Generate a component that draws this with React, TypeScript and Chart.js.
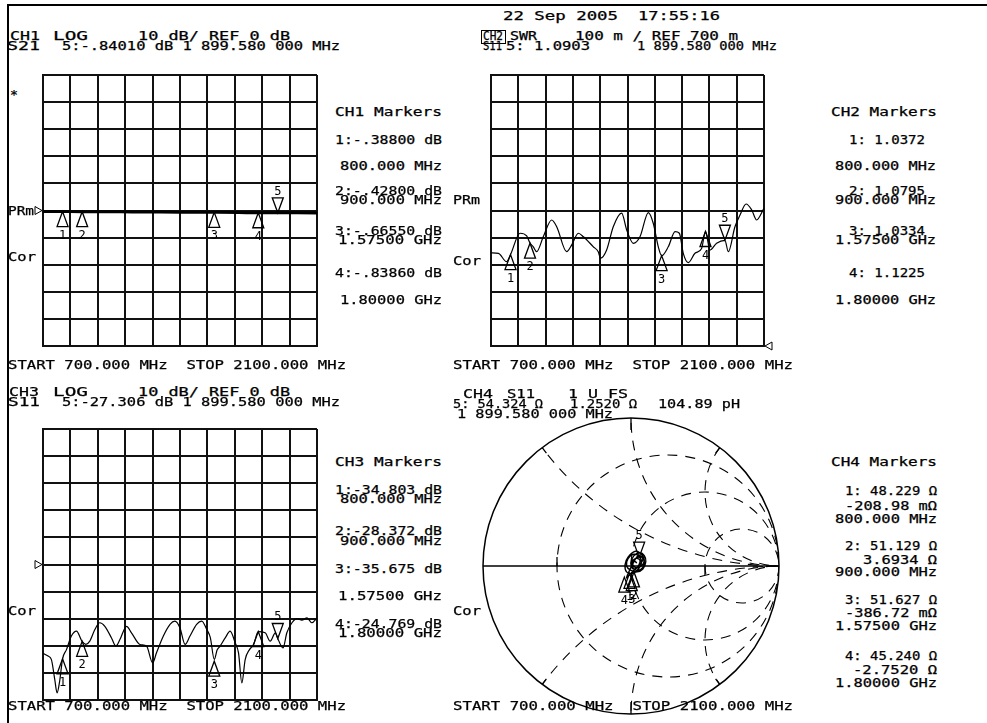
import React, { useEffect, useRef } from "react";
import { Chart, registerables } from "chart.js";
Chart.register(...registerables);

// ---------- data ----------
const FREQ_MIN = 700;
const FREQ_MAX = 2100;
const FREQ_STEP = 140;
const markerFreqs = [800, 900, 1575, 1800, 1899.58];
const markerLabels = ["1", "2", "3", "4", "5"];

// CH1 S21 (dB)
const ch1Freqs = [700, 800, 900, 1000, 1100, 1200, 1300, 1400, 1500, 1575, 1700, 1800, 1899.58, 2000, 2100];
const ch1Db = [-0.35, -0.388, -0.428, -0.46, -0.5, -0.53, -0.57, -0.6, -0.63, -0.6655, -0.74, -0.8386, -0.8401, -0.87, -0.9];
const ch1MarkerDb = [-0.388, -0.428, -0.6655, -0.8386, -0.8401];

// CH2 S11 SWR
const ch2Freqs = [700, 738, 780, 800, 849, 883, 900, 917, 934, 968, 1011, 1037, 1088, 1114, 1148, 1174, 1225, 1250, 1262, 1293, 1327, 1370, 1396, 1430, 1464, 1507, 1532, 1558, 1575, 1609, 1644, 1666, 1686, 1712, 1746, 1780, 1800, 1823, 1857, 1899.58, 1917, 1951, 1977, 2008, 2037, 2062, 2100];
const ch2Swr = [1.044, 1.042, 1.011, 1.037, 1.116, 1.106, 1.08, 1.066, 1.048, 1.103, 1.165, 1.14, 1.048, 1.073, 1.116, 1.103, 1.066, 1.048, 1.024, 1.054, 1.14, 1.19, 1.128, 1.079, 1.103, 1.192, 1.153, 1.066, 1.033, 1.066, 1.122, 1.116, 1.042, 1.008, 1.042, 1.06, 1.122, 1.054, 1.079, 1.09, 1.048, 1.14, 1.183, 1.224, 1.202, 1.165, 1.208];
const ch2MarkerSwr = [1.0372, 1.0795, 1.0334, 1.1225, 1.0903];

// CH3 S11 (dB)
const ch3Freqs = [700, 726, 743, 760, 772, 785, 800, 820, 845, 871, 900, 919, 939, 965, 990, 1016, 1050, 1072, 1093, 1127, 1152, 1195, 1229, 1260, 1280, 1315, 1349, 1374, 1400, 1426, 1451, 1485, 1511, 1537, 1555, 1575, 1590, 1605, 1631, 1656, 1682, 1699, 1716, 1733, 1755, 1776, 1800, 1835, 1861, 1887, 1899.58, 1926, 1946, 1972, 1998, 2023, 2049, 2074, 2100];
const ch3Db = [-32.8, -33.8, -35.1, -42.4, -47.4, -43.1, -34.8, -31.4, -26.4, -24.6, -28.4, -29.5, -28.3, -24.0, -21.5, -22.8, -27.1, -30.1, -27.7, -22.8, -25.2, -29.5, -30.1, -36.3, -32.6, -26.4, -22.1, -20.9, -23.4, -29.5, -26.4, -22.1, -20.9, -24.0, -27.0, -35.0, -31.5, -30.1, -27.1, -24.6, -28.9, -32.6, -43.7, -35.1, -31.4, -29.5, -24.8, -25.2, -28.3, -25.2, -27.3, -30.8, -25.2, -21.5, -20.0, -20.5, -19.7, -21.5, -19.7];
const ch3MarkerDb = [-34.803, -28.372, -35.675, -24.769, -27.306];

// CH4 Smith (reflection coefficient)
const smithRe = [0.0, 0.03, 0.07, 0.09, 0.08, 0.05, 0.02, 0.0, 0.02, 0.06, 0.09, 0.1, 0.08, 0.04, 0.0, -0.03, -0.02, 0.02, 0.06, 0.07, 0.05, 0.01, -0.03, -0.04, -0.02, 0.03, 0.07, 0.09, 0.07, 0.03, 0.01, 0.03, 0.06, 0.05, 0.02, -0.01, -0.03, -0.01, 0.02, 0.05, 0.08, 0.06, 0.02, 0.0, 0.01, 0.04];
const smithIm = [0.01, 0.05, 0.06, 0.03, -0.01, -0.03, -0.02, 0.02, 0.07, 0.09, 0.07, 0.03, -0.02, -0.04, -0.03, 0.0, 0.05, 0.08, 0.06, 0.02, -0.02, -0.05, -0.04, 0.01, 0.06, 0.1, 0.08, 0.04, 0.0, -0.01, 0.02, 0.05, 0.04, 0.0, -0.03, -0.06, -0.08, -0.03, 0.03, 0.07, 0.05, 0.01, -0.02, 0.01, 0.04, 0.02];
const smithMarkerRe = [-0.01, 0.02, 0.005, -0.045, 0.055];
const smithMarkerIm = [-0.05, -0.04, -0.065, -0.075, 0.06];
const smithResistances = [1 / 3, 1, 3];
const smithReactances = [0.5, 1, 2];

// ---------- plugins ----------
type Mk = { x: number; y: number; label: string; up: boolean };

function markerPlugin(markers: Mk[]) {
  return {
    id: "markers",
    afterDatasetsDraw(chart: any) {
      const { ctx } = chart;
      const xs = chart.scales.x;
      const ys = chart.scales.y;
      ctx.save();
      ctx.strokeStyle = "#000";
      ctx.fillStyle = "#000";
      ctx.lineWidth = 1.3;
      ctx.font = '12px "DejaVu Sans Mono"';
      ctx.textAlign = "center";
      markers.forEach((m) => {
        const px = xs.getPixelForValue(m.x);
        const py = ys.getPixelForValue(m.y);
        const d = m.up ? 1 : -1;
        ctx.beginPath();
        ctx.moveTo(px, py);
        ctx.lineTo(px - 5.5, py + d * 15);
        ctx.lineTo(px + 5.5, py + d * 15);
        ctx.closePath();
        ctx.stroke();
        ctx.fillText(m.label, px, m.up ? py + 27 : py - 18);
      });
      ctx.restore();
    },
  };
}

function refPlugin(side: "left" | "right", value: number) {
  return {
    id: "refArrow",
    afterDraw(chart: any) {
      const { ctx, chartArea } = chart;
      const py = chart.scales.y.getPixelForValue(value);
      ctx.save();
      ctx.strokeStyle = "#000";
      ctx.lineWidth = 1;
      ctx.beginPath();
      if (side === "left") {
        const tip = chartArea.left - 1;
        ctx.moveTo(tip, py);
        ctx.lineTo(tip - 7, py - 4);
        ctx.lineTo(tip - 7, py + 4);
      } else {
        const tip = chartArea.right + 1;
        ctx.moveTo(tip, py);
        ctx.lineTo(tip + 7, py - 4);
        ctx.lineTo(tip + 7, py + 4);
      }
      ctx.closePath();
      ctx.stroke();
      ctx.restore();
    },
  };
}

const smithGridPlugin = {
  id: "smithGrid",
  beforeDatasetsDraw(chart: any) {
    const { ctx } = chart;
    const xs = chart.scales.x;
    const ys = chart.scales.y;
    const cx = xs.getPixelForValue(0);
    const cy = ys.getPixelForValue(0);
    const R = xs.getPixelForValue(1) - cx;
    ctx.save();
    ctx.strokeStyle = "#000";
    ctx.lineWidth = 1.5;
    ctx.beginPath();
    ctx.arc(cx, cy, R, 0, Math.PI * 2);
    ctx.stroke();
    ctx.beginPath();
    ctx.moveTo(cx - R, cy);
    ctx.lineTo(cx + R, cy);
    ctx.stroke();
    // ticks
    ctx.lineWidth = 1.3;
    ctx.beginPath();
    ctx.moveTo(cx - 0.5 * R, cy);
    ctx.lineTo(cx - 0.5 * R, cy - 9);
    ctx.moveTo(cx + 0.5 * R, cy);
    ctx.lineTo(cx + 0.5 * R, cy + 9);
    ctx.moveTo(cx, cy - R);
    ctx.lineTo(cx, cy - R + 12);
    ctx.moveTo(cx, cy + R);
    ctx.lineTo(cx, cy + R - 12);
    [[-0.6, 0.8], [0.6, 0.8], [-0.6, -0.8], [0.6, -0.8]].forEach(([u, v]) => {
      ctx.moveTo(cx + u * R, cy - v * R);
      ctx.lineTo(cx + u * (R - 7), cy - v * (R - 7));
    });
    ctx.stroke();
    // dashed graticule
    ctx.beginPath();
    ctx.arc(cx, cy, R, 0, Math.PI * 2);
    ctx.clip();
    ctx.setLineDash([10, 8]);
    ctx.lineWidth = 1.1;
    smithResistances.forEach((r) => {
      const c = r / (1 + r);
      const rad = 1 / (1 + r);
      ctx.beginPath();
      ctx.arc(cx + c * R, cy, rad * R, 0, Math.PI * 2);
      ctx.stroke();
    });
    smithReactances.forEach((xv) => {
      [1, -1].forEach((s) => {
        const rad = 1 / xv;
        ctx.beginPath();
        ctx.arc(cx + R, cy - s * rad * R, rad * R, 0, Math.PI * 2);
        ctx.stroke();
      });
    });
    ctx.restore();
  },
};

// ---------- components ----------
const gridOpts = { color: "#111", lineWidth: 2, drawTicks: false };
const borderOpts = { color: "#111", width: 2 };

function RectChart(props: any) {
  const ref = useRef<HTMLCanvasElement>(null);
  const { left, top, width, height, pad, xs, ys, yMin, yMax, yStep, lineW, my, refSide, refVal } = props;
  useEffect(() => {
    const data = xs.map((x: number, i: number) => ({ x, y: ys[i] }));
    const markers: Mk[] = markerFreqs.map((f, i) => ({ x: f, y: my[i], label: markerLabels[i], up: i < 4 }));
    const chart = new Chart(ref.current as HTMLCanvasElement, {
      type: "line",
      data: {
        datasets: [
          {
            data,
            borderColor: "#000",
            borderWidth: lineW,
            pointRadius: 0,
            cubicInterpolationMode: "monotone",
            fill: false,
          } as any,
        ],
      },
      options: {
        animation: false,
        responsive: false,
        devicePixelRatio: 1,
        events: [],
        layout: { padding: pad },
        plugins: { legend: { display: false }, tooltip: { enabled: false } },
        scales: {
          x: {
            type: "linear",
            min: FREQ_MIN,
            max: FREQ_MAX,
            ticks: { display: false, stepSize: FREQ_STEP },
            grid: gridOpts,
            border: borderOpts,
          },
          y: {
            type: "linear",
            min: yMin,
            max: yMax,
            ticks: { display: false, stepSize: yStep },
            grid: gridOpts,
            border: borderOpts,
          },
        },
      } as any,
      plugins: [markerPlugin(markers), refPlugin(refSide, refVal)],
    });
    return () => chart.destroy();
  }, []);
  return <canvas ref={ref} width={width} height={height} style={{ position: "absolute", left, top, width, height }} />;
}

function SmithChart() {
  const ref = useRef<HTMLCanvasElement>(null);
  useEffect(() => {
    const data = smithRe.map((x, i) => ({ x, y: smithIm[i] }));
    const markers: Mk[] = smithMarkerRe.map((x, i) => ({ x, y: smithMarkerIm[i], label: markerLabels[i], up: i < 4 }));
    const chart = new Chart(ref.current as HTMLCanvasElement, {
      type: "scatter",
      data: {
        datasets: [
          {
            data,
            showLine: true,
            borderColor: "#000",
            borderWidth: 1.4,
            pointRadius: 0,
            tension: 0.4,
          } as any,
        ],
      },
      options: {
        animation: false,
        responsive: false,
        devicePixelRatio: 1,
        events: [],
        layout: { padding: 10 },
        plugins: { legend: { display: false }, tooltip: { enabled: false } },
        scales: {
          x: { type: "linear", min: -1, max: 1, display: false },
          y: { type: "linear", min: -1, max: 1, display: false },
        },
      } as any,
      plugins: [smithGridPlugin, markerPlugin(markers)],
    });
    return () => chart.destroy();
  }, []);
  return <canvas ref={ref} width={316} height={316} style={{ position: "absolute", left: 473, top: 408, width: 316, height: 316 }} />;
}

const FS = 12;
const ADV = 0.602 * FS;
function T({ x, y, w, s }: { x: number; y: number; w?: number; s: string }) {
  const target = w ?? s.length * 9.4;
  const sc = target / (s.length * ADV);
  return (
    <div
      style={{
        position: "absolute",
        left: x,
        top: y - 1.6,
        font: `${FS}px "DejaVu Sans Mono"`,
        lineHeight: `${FS}px`,
        whiteSpace: "pre",
        transform: `scaleX(${sc})`,
        transformOrigin: "0 0",
        color: "#000",
        WebkitTextStroke: "0.25px #000",
      }}
    >
      {s}
    </div>
  );
}

const SPAN = "START 700.000 MHz  STOP 2100.000 MHz";

export default function App() {
  return (
    <div style={{ position: "absolute", left: 0, top: 0, width: 987, height: 723, background: "#fff", overflow: "hidden" }}>
      <RectChart left={30} top={65} width={300} height={295} pad={{ left: 13, top: 10, right: 13, bottom: 14 }}
        xs={ch1Freqs} ys={ch1Db} yMin={-50} yMax={50} yStep={10} lineW={3} my={ch1MarkerDb} refSide="left" refVal={0} />
      <RectChart left={480} top={65} width={300} height={295} pad={{ left: 11, top: 10, right: 16, bottom: 14 }}
        xs={ch2Freqs} ys={ch2Swr} yMin={0.7} yMax={1.7} yStep={0.1} lineW={1.2} my={ch2MarkerSwr} refSide="right" refVal={0.7} />
      <RectChart left={30} top={419} width={300} height={295} pad={{ left: 13, top: 10, right: 13, bottom: 14 }}
        xs={ch3Freqs} ys={ch3Db} yMin={-50} yMax={50} yStep={10} lineW={1.2} my={ch3MarkerDb} refSide="left" refVal={0} />
      <SmithChart />

      {/* frame */}
      <div style={{ position: "absolute", left: 7, top: 4, width: 980, height: 2, background: "#000" }} />
      <div style={{ position: "absolute", left: 7, top: 4, width: 2, height: 719, background: "#000" }} />

      {/* header */}
      <T x={503} y={12} w={115} s="22 Sep 2005" />
      <T x={638} y={12} w={82} s="17:55:16" />
      <T x={10} y={32} w={30} s="CH1" />
      <T x={53} y={32} w={35} s="LOG" />
      <T x={138} y={32} w={152} s="10 dB/ REF 0 dB" />
      <T x={7} y={42} w={33} s="S21" />
      <T x={62} y={42} w={278} s="5:-.84010 dB 1 899.580 000 MHz" />
      <div style={{ position: "absolute", left: 481, top: 30, width: 23, height: 12, border: "1px solid #000" }} />
      <T x={483} y={32} w={20} s="CH2" />
      <T x={510} y={32} w={27} s="SWR" />
      <T x={575} y={32} w={163} s="100 m / REF 700 m" />
      <T x={483} y={42} w={19} s="S11" />
      <T x={506} y={42} w={84} s="5: 1.0903" />
      <T x={637} y={42} w={140} s="1 899.580 000 MHz" />

      <T x={10} y={91} w={8} s="*" />
      <T x={8} y={207} w={26} s="PRm" />
      <T x={8} y={253} w={28} s="Cor" />
      <T x={453} y={196} w={27} s="PRm" />
      <T x={453} y={257} w={28} s="Cor" />

      {/* CH1 markers */}
      <T x={335} y={108} w={107} s="CH1 Markers" />
      <T x={335} y={136} w={107} s="1:-.38800 dB" />
      <T x={340} y={162} w={102} s="800.000 MHz" />
      <T x={335} y={187} w={107} s="2:-.42800 dB" />
      <T x={340} y={196} w={102} s="900.000 MHz" />
      <T x={335} y={227} w={107} s="3:-.66550 dB" />
      <T x={338} y={236} w={104} s="1.57500 GHz" />
      <T x={335} y={269} w={107} s="4:-.83860 dB" />
      <T x={340} y={296} w={102} s="1.80000 GHz" />

      {/* CH2 markers */}
      <T x={831} y={108} w={106} s="CH2 Markers" />
      <T x={849} y={136} w={76} s="1: 1.0372" />
      <T x={835} y={162} w={101} s="800.000 MHz" />
      <T x={849} y={187} w={76} s="2: 1.0795" />
      <T x={835} y={196} w={101} s="900.000 MHz" />
      <T x={849} y={227} w={76} s="3: 1.0334" />
      <T x={835} y={236} w={101} s="1.57500 GHz" />
      <T x={849} y={269} w={76} s="4: 1.1225" />
      <T x={835} y={296} w={101} s="1.80000 GHz" />

      <T x={8} y={361} w={338} s={SPAN} />
      <T x={453} y={361} w={340} s={SPAN} />

      {/* CH3 header */}
      <T x={9} y={388} w={30} s="CH3" />
      <T x={53} y={388} w={35} s="LOG" />
      <T x={138} y={388} w={152} s="10 dB/ REF 0 dB" />
      <T x={8} y={398} w={32} s="S11" />
      <T x={62} y={398} w={278} s="5:-27.306 dB 1 899.580 000 MHz" />

      {/* CH4 header */}
      <T x={463} y={390} w={30} s="CH4" />
      <T x={507} y={390} w={28} s="S11" />
      <T x={568} y={390} w={60} s="1 U FS" />
      <T x={453} y={400} w={90} s="5: 54.324 Ω" />
      <T x={570} y={400} w={67} s="1.2520 Ω" />
      <T x={658} y={400} w={82} s="104.89 pH" />
      <T x={457} y={410} w={156} s="1 899.580 000 MHz" />

      <T x={8} y={607} w={28} s="Cor" />
      <T x={453} y={607} w={28} s="Cor" />

      {/* CH3 markers */}
      <T x={335} y={458} w={107} s="CH3 Markers" />
      <T x={335} y={486} w={107} s="1:-34.803 dB" />
      <T x={340} y={495} w={102} s="800.000 MHz" />
      <T x={335} y={527} w={107} s="2:-28.372 dB" />
      <T x={340} y={537} w={102} s="900.000 MHz" />
      <T x={335} y={565} w={107} s="3:-35.675 dB" />
      <T x={338} y={592} w={104} s="1.57500 GHz" />
      <T x={335} y={620} w={107} s="4:-24.769 dB" />
      <T x={338} y={629} w={104} s="1.80000 GHz" />

      {/* CH4 markers */}
      <T x={831} y={458} w={106} s="CH4 Markers" />
      <T x={845} y={487} w={92} s="1: 48.229 Ω" />
      <T x={845} y={502} w={92} s="-208.98 mΩ" />
      <T x={835} y={515} w={102} s="800.000 MHz" />
      <T x={845} y={542} w={92} s="2: 51.129 Ω" />
      <T x={863} y={556} w={74} s="3.6934 Ω" />
      <T x={835} y={568} w={102} s="900.000 MHz" />
      <T x={845} y={596} w={92} s="3: 51.627 Ω" />
      <T x={845} y={609} w={92} s="-386.72 mΩ" />
      <T x={835} y={622} w={102} s="1.57500 GHz" />
      <T x={845} y={652} w={92} s="4: 45.240 Ω" />
      <T x={853} y={666} w={84} s="-2.7520 Ω" />
      <T x={835} y={679} w={102} s="1.80000 GHz" />

      <T x={8} y={702} w={338} s={SPAN} />
      <T x={453} y={702} w={340} s={SPAN} />
    </div>
  );
}
